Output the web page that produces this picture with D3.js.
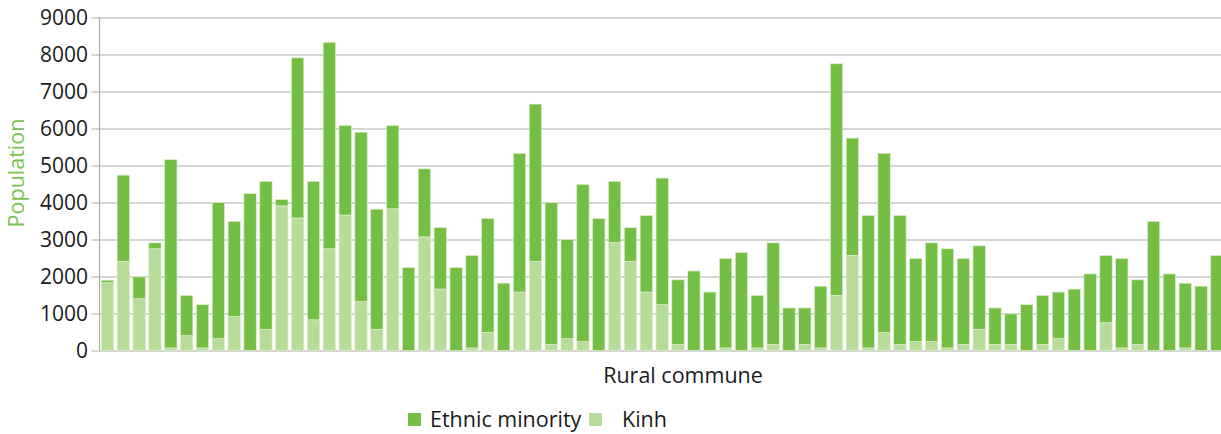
<!DOCTYPE html>
<html>
<head>
<meta charset="utf-8">
<script src="https://cdn.jsdelivr.net/npm/d3@7"></script>
<style>
  html, body { margin: 0; padding: 0; background: #fff; }
  svg { display: block; font-family: "Open Sans", "DejaVu Sans", sans-serif; }
</style>
</head>
<body>
<div id="graph"></div>
<script>
// rural communes (unnamed in the source, one per bar)
const communes = d3.range(1, 72).map(d => "C" + d);

// Kinh population per commune (bottom of stack)
const kinh = [
  1830, 2410, 1400, 2750, 70, 400, 70, 320, 920, 0,
  570, 3910, 3580, 830, 2750, 3660, 1320, 570, 3830, 0,
  3070, 1660, 0, 70, 490, 0, 1580, 2410, 160, 320,
  240, 0, 2920, 2410, 1580, 1240, 160, 0, 0, 70,
  0, 70, 160, 0, 160, 70, 1490, 2570, 70, 490,
  160, 240, 240, 70, 160, 570, 160, 160, 0, 160,
  320, 0, 0, 750, 70, 160, 0, 0, 70, 0,
  0
];

// Ethnic minority population per commune (top of stack)
const ethnicMinority = [
  70, 2330, 590, 160, 5090, 1090, 1170, 3680, 2570, 4240,
  4000, 170, 4330, 3740, 5580, 2420, 4580, 3250, 2250, 2240,
  1840, 1660, 2240, 2500, 3080, 1820, 3750, 4250, 3840, 2680,
  4250, 3570, 1650, 910, 2070, 3420, 1750, 2150, 1580, 2420,
  2650, 1420, 2750, 1150, 990, 1670, 6260, 3170, 3580, 4840,
  3490, 2250, 2670, 2680, 2330, 2260, 990, 830, 1240, 1330,
  1260, 1660, 2070, 1820, 2420, 1750, 3490, 2070, 1750, 1740,
  2570
];

const yTicks = [0, 1000, 2000, 3000, 4000, 5000, 6000, 7000, 8000, 9000];

const seriesKeys = ["kinh", "ethnicMinority"];
const seriesLabels = { ethnicMinority: "Ethnic minority", kinh: "Kinh" };
const colors = { ethnicMinority: "#74be44", kinh: "#b7dc9a" };

const width = 1221, height = 434;
const margin = { left: 99.5, top: 17.5, bottom: 350.5 };

const rows = communes.map((c, i) => ({ commune: c, kinh: kinh[i], ethnicMinority: ethnicMinority[i] }));

const svg = d3.select("#graph").append("svg")
  .attr("width", width)
  .attr("height", height);

/** scales */
const x = d3.scaleBand()
  .domain(communes)
  .range([margin.left, margin.left + communes.length * 15.85])
  .paddingInner(0.22)
  .paddingOuter(0.11);

const y = d3.scaleLinear()
  .domain([0, 9000])
  .range([margin.bottom, margin.top]);

/** gridlines + tick marks (they run past the axis on the left) */
svg.append("g")
  .attr("transform", `translate(${margin.left},0)`)
  .call(d3.axisLeft(y).tickValues(yTicks).tickSize(-(width - margin.left)).tickSizeOuter(0).tickFormat(""))
  .call(g => g.select(".domain").remove())
  .call(g => g.selectAll("line")
    .attr("x1", -8)
    .attr("stroke", "#a9a9a9")
    .attr("stroke-width", 1.1));

/** tick labels */
svg.append("g")
  .selectAll("text")
  .data(yTicks)
  .join("text")
  .attr("x", 88)
  .attr("y", d => y(d))
  .attr("dy", "0.36em")
  .attr("text-anchor", "end")
  .style("font-size", "21px")
  .style("fill", "#1a1a1a")
  .text(d => d);

/** stacked bars */
const stack = d3.stack().keys(seriesKeys)(rows);

svg.append("g")
  .selectAll("g")
  .data(stack)
  .join("g")
  .attr("fill", d => colors[d.key])
  .selectAll("rect")
  .data(d => d)
  .join("rect")
  .attr("x", d => x(d.data.commune))
  .attr("y", d => y(d[1]))
  .attr("width", x.bandwidth())
  .attr("height", d => Math.max(0, y(d[0]) - y(d[1])))
  .attr("stroke", "#dcefcf")
  .attr("stroke-width", 0.7);

// vertical axis line
svg.append("line")
  .attr("x1", margin.left).attr("x2", margin.left)
  .attr("y1", margin.top).attr("y2", margin.bottom)
  .attr("stroke", "#a9a9a9")
  .attr("stroke-width", 1.1);

// y title
svg.append("text")
  .attr("transform", "translate(24,173) rotate(-90)")
  .attr("text-anchor", "middle")
  .style("font-size", "21.5px")
  .style("fill", "#7cc24f")
  .text("Population");

// x title
svg.append("text")
  .attr("x", 683)
  .attr("y", 383)
  .attr("text-anchor", "middle")
  .style("font-size", "21.5px")
  .style("fill", "#1a1a1a")
  .text("Rural commune");

/** legend */
const legendItems = [
  { key: "ethnicMinority", box: 408, text: 430 },
  { key: "kinh", box: 589, text: 622 }
];

const legend = svg.append("g");
legend.selectAll("rect")
  .data(legendItems)
  .join("rect")
  .attr("x", d => d.box)
  .attr("y", 413)
  .attr("width", 13)
  .attr("height", 13)
  .attr("fill", d => colors[d.key]);

legend.selectAll("text")
  .data(legendItems)
  .join("text")
  .attr("x", d => d.text)
  .attr("y", 427)
  .style("font-size", "21.5px")
  .style("fill", "#1a1a1a")
  .text(d => seriesLabels[d.key]);
</script>
</body>
</html>
